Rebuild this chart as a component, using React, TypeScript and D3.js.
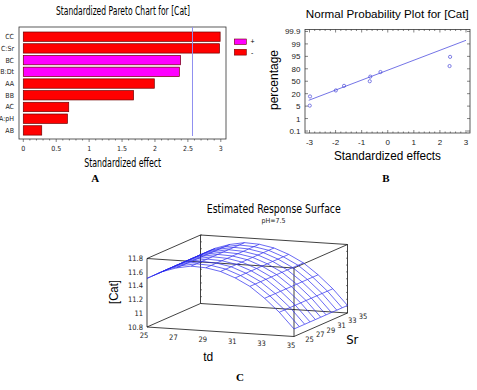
import * as d3 from "d3";
import React from "react";

// Pareto chart (A)
const effectNames = ["CC", "C:Sr", "BC", "B:Dt", "AA", "BB", "AC", "A:pH", "AB"];
const effectValues = [2.99, 2.98, 2.39, 2.37, 1.99, 1.675, 0.69, 0.67, 0.28];
const effectSigns = ["-", "-", "+", "+", "-", "-", "-", "-", "-"];
const criticalT = 2.57;
const paretoTicks = [0, 0.5, 1, 1.5, 2, 2.5, 3];

// Normal probability plot (B)
const probEffects = [-2.99, -2.98, -1.99, -1.675, -0.69, -0.67, -0.28, 2.37, 2.39];
const probPercents = [5.6, 16.7, 27.8, 38.9, 50, 61.1, 72.2, 83.3, 94.4];
const probTicks = [0.1, 1, 5, 20, 50, 80, 95, 99, 99.9];
const probXTicks = [-3, -2, -1, 0, 1, 2, 3];
const fitEffects = [-3.03, 3.0];
const fitPercents = [12.0, 99.26];

// Response surface (C), pH = 7.5
const tdValues = [25, 26, 27, 28, 29, 30, 31, 32, 33, 34, 35];
const srValues = [25, 26, 27, 28, 29, 30, 31, 32, 33, 34, 35];
const catByTd = [11.51, 11.62, 11.69, 11.73, 11.72, 11.68, 11.6, 11.49, 11.33, 11.14, 10.91];
const tdTicks = [25, 27, 29, 31, 33, 35];
const srTicks = [25, 27, 29, 31, 33, 35];
const catTicks = [10.8, 11, 11.2, 11.4, 11.6, 11.8];

const narrow = "'Liberation Sans Narrow', 'DejaVu Sans Condensed', 'Liberation Sans', Arial, sans-serif";
const sans = "'Liberation Sans', Arial, sans-serif";
const serif = "'Liberation Serif', 'Times New Roman', serif";

const ParetoChart = () => {
  const x = d3.scaleLinear().domain([0, 3]).range([23.3, 220.8]);
  const y = d3.scaleBand().domain(effectNames).range([32, 135.1]).paddingInner(0.2).paddingOuter(0);
  const minor = d3.range(0, 31).map((d) => d / 10);
  return (
    <g>
      <text x={123} y={15} fontFamily={narrow} fontSize={12} textAnchor="middle" textLength={134} lengthAdjust="spacingAndGlyphs">
        Standardized Pareto Chart for [Cat]
      </text>
      <rect x={19} y={27} width={207} height={112} fill="none" stroke="#333" strokeWidth={0.8} />
      {effectNames.map((n, i) => (
        <g key={n}>
          <rect
            x={x(0)}
            y={y(n)}
            width={x(effectValues[i]) - x(0)}
            height={y.bandwidth()}
            fill={effectSigns[i] === "+" ? "#ff00ff" : "#ff0000"}
            stroke="#700000"
            strokeWidth={0.7}
          />
          <text x={14} y={(y(n) as number) + y.bandwidth() / 2 + 2.5} fontFamily={narrow} fontSize={7} textAnchor="end" fill="#222">
            {n}
          </text>
        </g>
      ))}
      <line x1={x(criticalT)} x2={x(criticalT)} y1={27} y2={136} stroke="#8f8ff0" strokeWidth={1} />
      {minor.map((t) => (
        <line key={t} x1={x(t)} x2={x(t)} y1={139} y2={t % 0.5 === 0 ? 142 : 140.5} stroke="#333" strokeWidth={0.6} />
      ))}
      {paretoTicks.map((t) => (
        <text key={t} x={x(t)} y={151} fontFamily={narrow} fontSize={7} textAnchor="middle" fill="#222">
          {t}
        </text>
      ))}
      <text x={122.7} y={167} fontFamily={narrow} fontSize={12} textAnchor="middle" textLength={77} lengthAdjust="spacingAndGlyphs">
        Standardized effect
      </text>
      <rect x={234.3} y={39} width={12} height={5.5} fill="#ff00ff" stroke="#700000" strokeWidth={0.6} />
      <rect x={234.3} y={49.3} width={12} height={5.8} fill="#ff0000" stroke="#700000" strokeWidth={0.6} />
      <text x={250.5} y={44} fontFamily={sans} fontSize={7}>+</text>
      <text x={251} y={54.5} fontFamily={sans} fontSize={7}>-</text>
      <text x={95.3} y={182} fontFamily={serif} fontWeight="bold" fontSize={11} textAnchor="middle">A</text>
    </g>
  );
};

const ProbabilityPlot = () => {
  const left = 305, right = 470, top = 29.5, bottom = 133;
  const x = d3.scaleLinear().domain([-3, 3]).range([309.5, 466]);
  const y = d3
    .scaleLinear()
    .domain(probTicks)
    .range(probTicks.map((_, i) => 131 - i * 12.44));
  const minorX = d3.range(-15, 16).map((d) => d / 5).filter((d) => x(d) > left && x(d) < right);
  const fit = d3.line<number>().x((d) => x(d)).y((_, i) => y(fitPercents[i]));
  return (
    <g>
      <text x={387.3} y={17.5} fontFamily={sans} fontSize={11.5} textAnchor="middle" textLength={163} lengthAdjust="spacingAndGlyphs">
        Normal Probability Plot for [Cat]
      </text>
      <rect x={left} y={top} width={right - left} height={bottom - top} fill="none" stroke="#333" strokeWidth={0.8} />
      {minorX.map((t) => {
        const major = Math.abs(t - Math.round(t)) < 1e-6;
        const len = major ? 3 : 1.5;
        return (
          <g key={t} stroke="#333" strokeWidth={0.6}>
            <line x1={x(t)} x2={x(t)} y1={bottom} y2={bottom - len} />
            <line x1={x(t)} x2={x(t)} y1={top} y2={top + len} />
          </g>
        );
      })}
      {probTicks.map((t) => (
        <g key={t}>
          <line x1={left} x2={left + 3} y1={y(t)} y2={y(t)} stroke="#333" strokeWidth={0.6} />
          <line x1={right} x2={right - 3} y1={y(t)} y2={y(t)} stroke="#333" strokeWidth={0.6} />
          <text x={300.5} y={y(t) + 3} fontFamily={sans} fontSize={8} textAnchor="end" fill="#222">
            {t}
          </text>
        </g>
      ))}
      {probXTicks.map((t) => (
        <text key={t} x={x(t)} y={144.5} fontFamily={sans} fontSize={8} textAnchor="middle" fill="#222">
          {t}
        </text>
      ))}
      <path d={fit(fitEffects) as string} fill="none" stroke="#5050e0" strokeWidth={0.8} />
      {probEffects.map((e, i) => (
        <circle key={i} cx={x(e)} cy={y(probPercents[i])} r={1.6} fill="none" stroke="#4848d8" strokeWidth={0.7} />
      ))}
      <text
        transform="translate(277.5,80) rotate(-90)"
        fontFamily={sans}
        fontSize={13.5}
        textAnchor="middle"
        textLength={60}
        lengthAdjust="spacingAndGlyphs"
      >
        percentage
      </text>
      <text x={387.5} y={159.5} fontFamily={sans} fontSize={12.5} textAnchor="middle" textLength={107} lengthAdjust="spacingAndGlyphs">
        Standardized effects
      </text>
      <text x={386} y={182} fontFamily={serif} fontWeight="bold" fontSize={11} textAnchor="middle">B</text>
    </g>
  );
};

const SurfacePlot = () => {
  const ox = 147, oy = 327;
  const ex = [147, 9.5], ey = [53.5, -23.5], ez = -68.5;
  const u = d3.scaleLinear().domain([25, 35]).range([0, 1]);
  const v = d3.scaleLinear().domain([25, 35]).range([0, 1]);
  const w = d3.scaleLinear().domain([10.8, 11.8]).range([0, 1]);
  const project = (td: number, sr: number, z: number): [number, number] => [
    ox + u(td) * ex[0] + v(sr) * ey[0],
    oy + u(td) * ex[1] + v(sr) * ey[1] + w(z) * ez,
  ];
  const line = d3.line<[number, number]>();
  const zMin = 10.8, zMax = 11.8;
  const corners = [
    [25, 25], [35, 25], [35, 35], [25, 35],
  ];
  const edges: [number, number, number][][] = [];
  corners.forEach((c, i) => {
    const n = corners[(i + 1) % 4];
    edges.push([[c[0], c[1], zMin], [n[0], n[1], zMin]]);
    edges.push([[c[0], c[1], zMax], [n[0], n[1], zMax]]);
    edges.push([[c[0], c[1], zMin], [c[0], c[1], zMax]]);
  });
  const zMinor = d3.range(108, 119).map((d) => d / 10);
  return (
    <g>
      <text x={273.8} y={213.3} fontFamily={narrow} fontSize={12} textAnchor="middle" textLength={134} lengthAdjust="spacingAndGlyphs">
        Estimated Response Surface
      </text>
      <text x={273.5} y={223.3} fontFamily={narrow} fontSize={7} textAnchor="middle" fill="#222">
        pH=7.5
      </text>
      {edges.map((e, i) => (
        <path key={i} d={line(e.map((p) => project(p[0], p[1], p[2]))) as string} stroke="#111" strokeWidth={0.8} fill="none" />
      ))}
      {zMinor.map((z) => {
        const a = project(25, 35, z);
        const b = project(35, 35, z);
        return (
          <g key={z} stroke="#333" strokeWidth={0.6}>
            <line x1={a[0]} x2={a[0] + 1.5} y1={a[1]} y2={a[1]} />
            <line x1={b[0]} x2={b[0] - 1.5} y1={b[1]} y2={b[1]} />
          </g>
        );
      })}
      {srValues.map((sr) => (
        <path
          key={"s" + sr}
          d={line(tdValues.map((td, i) => project(td, sr, catByTd[i]))) as string}
          fill="none"
          stroke="#2a2aee"
          strokeWidth={0.7}
        />
      ))}
      {tdValues.map((td, i) => (
        <path
          key={"t" + td}
          d={line(srValues.map((sr) => project(td, sr, catByTd[i]))) as string}
          fill="none"
          stroke="#2a2aee"
          strokeWidth={0.7}
        />
      ))}
      {catTicks.map((z) => {
        const p = project(25, 25, z);
        return (
          <text key={z} x={p[0] - 4} y={p[1] + 2.5} fontFamily={narrow} fontSize={7.5} textAnchor="end" fill="#222">
            {z}
          </text>
        );
      })}
      {tdTicks.map((t) => {
        const p = project(t, 25, zMin);
        return (
          <text key={t} x={p[0] - 3} y={p[1] + 11} fontFamily={narrow} fontSize={7.5} textAnchor="middle" fill="#222">
            {t}
          </text>
        );
      })}
      {srTicks.map((s) => {
        const p = project(35, s, zMin);
        return (
          <text key={s} x={p[0] + 15.5} y={p[1] + 5.5} fontFamily={narrow} fontSize={7.5} textAnchor="middle" fill="#222">
            {s}
          </text>
        );
      })}
      <text x={208.3} y={361} fontFamily={sans} fontSize={12} textAnchor="middle">td</text>
      <text x={352.3} y={344} fontFamily={narrow} fontSize={13} textAnchor="middle">Sr</text>
      <text
        transform="translate(118,292) rotate(-90)"
        fontFamily={sans}
        fontSize={12.5}
        textAnchor="middle"
        textLength={24}
        lengthAdjust="spacingAndGlyphs"
      >
        [Cat]
      </text>
      <text x={240} y={381} fontFamily={serif} fontWeight="bold" fontSize={11} textAnchor="middle">C</text>
    </g>
  );
};

export default function App() {
  return (
    <svg width={477} height={390} style={{ position: "absolute", left: 0, top: 0, background: "#fff" }}>
      <ParetoChart />
      <ProbabilityPlot />
      <SurfacePlot />
    </svg>
  );
}
